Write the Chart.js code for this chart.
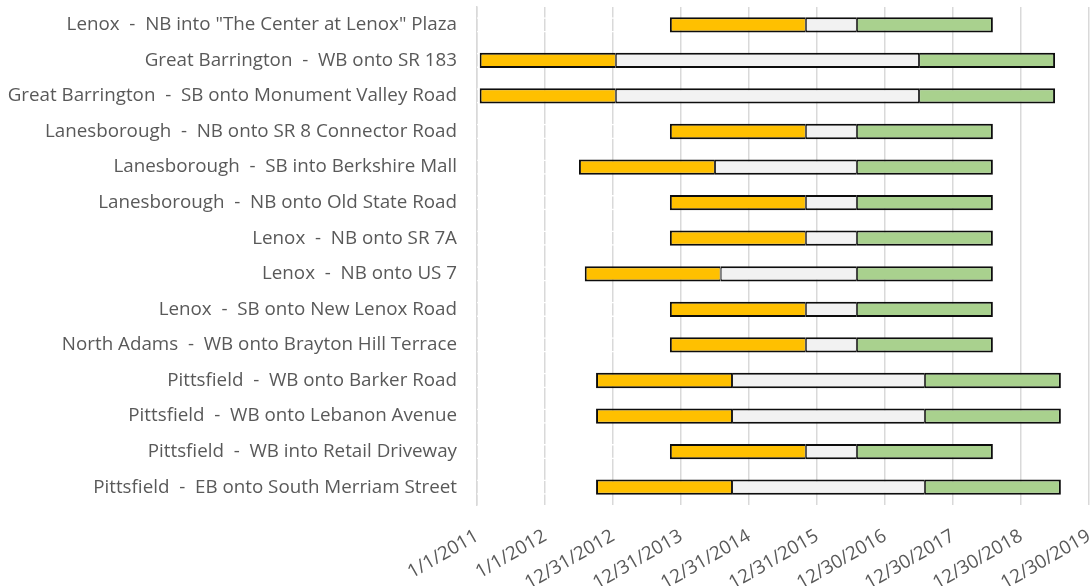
<!DOCTYPE html>
<html>
<head>
<meta charset="utf-8">
<script src="https://cdn.jsdelivr.net/npm/chart.js@4.4.1/dist/chart.umd.min.js"></script>
<style>
  html, body { margin: 0; padding: 0; background: #ffffff; }
  #wrap { width: 1092px; height: 586px; position: relative; }
</style>
</head>
<body>
<div id="wrap"><canvas id="chart" width="1092" height="586"></canvas></div>
<script>
// Intersection locations, listed top to bottom
const locations = [
  'Lenox  -  NB into "The Center at Lenox" Plaza',
  'Great Barrington  -  WB onto SR 183',
  'Great Barrington  -  SB onto Monument Valley Road',
  'Lanesborough  -  NB onto SR 8 Connector Road',
  'Lanesborough  -  SB into Berkshire Mall',
  'Lanesborough  -  NB onto Old State Road',
  'Lenox  -  NB onto SR 7A',
  'Lenox  -  NB onto US 7',
  'Lenox  -  SB onto New Lenox Road',
  'North Adams  -  WB onto Brayton Hill Terrace',
  'Pittsfield  -  WB onto Barker Road',
  'Pittsfield  -  WB onto Lebanon Avenue',
  'Pittsfield  -  WB into Retail Driveway',
  'Pittsfield  -  EB onto South Merriam Street'
];

// Phase boundaries (m/d/yyyy)
const phaseStart = [
  '11/1/2013', '1/15/2011', '1/15/2011', '11/1/2013', '7/1/2012', '11/1/2013', '11/1/2013',
  '8/1/2012', '11/1/2013', '11/1/2013', '10/1/2012', '10/1/2012', '11/1/2013', '10/1/2012'
];
const phase1End = [
  '11/1/2015', '1/15/2013', '1/15/2013', '11/1/2015', '7/1/2014', '11/1/2015', '11/1/2015',
  '8/1/2014', '11/1/2015', '11/1/2015', '10/1/2014', '10/1/2014', '11/1/2015', '10/1/2014'
];
const phase2End = [
  '8/1/2016', '7/1/2017', '7/1/2017', '8/1/2016', '8/1/2016', '8/1/2016', '8/1/2016',
  '8/1/2016', '8/1/2016', '8/1/2016', '8/1/2017', '8/1/2017', '8/1/2016', '8/1/2017'
];
const phase3End = [
  '8/1/2018', '7/1/2019', '7/1/2019', '8/1/2018', '8/1/2018', '8/1/2018', '8/1/2018',
  '8/1/2018', '8/1/2018', '8/1/2018', '8/1/2019', '8/1/2019', '8/1/2018', '8/1/2019'
];

// Axis tick dates
const tickDates = [
  '1/1/2011', '1/1/2012', '12/31/2012', '12/31/2013', '12/31/2014',
  '12/31/2015', '12/30/2016', '12/30/2017', '12/30/2018', '12/30/2019'
];

const phaseColors = ['#FFC000', '#F2F2F2', '#A9D18E'];

function dayNum(s) {
  const [m, d, y] = s.split('/').map(Number);
  return Date.UTC(y, m - 1, d) / 864e5;
}
function fmtDay(n) {
  const dt = new Date(n * 864e5);
  return (dt.getUTCMonth() + 1) + '/' + dt.getUTCDate() + '/' + dt.getUTCFullYear();
}

const axisMin = dayNum(tickDates[0]);
const axisMax = dayNum(tickDates[tickDates.length - 1]);

const offsets = phaseStart.map(s => dayNum(s));
const dur1 = phase1End.map((e, i) => dayNum(e) - dayNum(phaseStart[i]));
const dur2 = phase2End.map((e, i) => dayNum(e) - dayNum(phase1End[i]));
const dur3 = phase3End.map((e, i) => dayNum(e) - dayNum(phase2End[i]));

const FONT = '"Open Sans", "Noto Sans", sans-serif';
const TEXT = '#595959';

// Adjacent segments share one divider line, so inner edges get half width
function phaseSet(data, color, left, right) {
  return {
    data: data,
    backgroundColor: color,
    borderColor: '#0d0d0d',
    borderWidth: { top: 2, bottom: 2, left: left, right: right },
    borderSkipped: false
  };
}

function noScalePadding(scale) {
  scale.paddingLeft = 0;
  scale.paddingRight = 0;
  scale.paddingTop = 0;
  scale.paddingBottom = 0;
}

new Chart(document.getElementById('chart'), {
  type: 'bar',
  data: {
    labels: locations,
    datasets: [
      {
        data: offsets,
        backgroundColor: 'rgba(0,0,0,0)',
        borderColor: '#ffffff',
        borderWidth: 1.5,
        borderSkipped: 'start'
      },
      phaseSet(dur1, phaseColors[0], 2, 1),
      phaseSet(dur2, phaseColors[1], 1, 1),
      phaseSet(dur3, phaseColors[2], 1, 2)
    ]
  },
  options: {
    indexAxis: 'y',
    responsive: false,
    animation: false,
    events: [],
    barPercentage: 0.43,
    categoryPercentage: 1,
    layout: { padding: { top: 7, right: 3, left: 0, bottom: 0 } },
    plugins: {
      legend: { display: false },
      tooltip: { enabled: false }
    },
    scales: {
      x: {
        type: 'linear',
        stacked: true,
        min: axisMin,
        max: axisMax,
        afterBuildTicks: scale => {
          scale.ticks = tickDates.map(d => ({ value: dayNum(d) }));
        },
        afterFit: scale => { scale.height = 81; noScalePadding(scale); },
        grid: { color: '#D9D9D9', lineWidth: 1.5, drawTicks: false },
        border: { display: false },
        ticks: {
          autoSkip: false,
          minRotation: 30,
          maxRotation: 30,
          padding: 20,
          color: TEXT,
          font: { family: FONT, size: 18.8 },
          callback: v => fmtDay(v)
        }
      },
      y: {
        stacked: true,
        z: 1,
        afterFit: scale => { scale.width = 477; noScalePadding(scale); },
        grid: { display: false, drawTicks: false },
        border: { display: true, color: '#D9D9D9', width: 1.5 },
        ticks: {
          padding: 20,
          color: TEXT,
          font: { family: FONT, size: 18.8 }
        }
      }
    }
  }
});
</script>
</body>
</html>
